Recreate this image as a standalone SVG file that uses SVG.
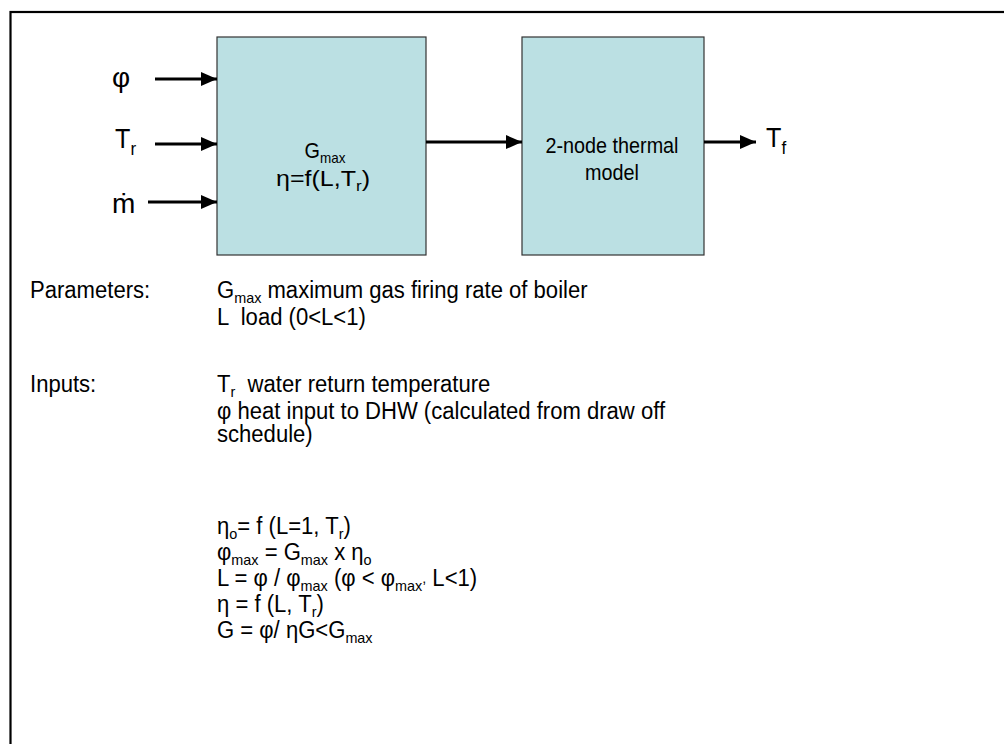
<svg xmlns="http://www.w3.org/2000/svg" width="1004" height="744" viewBox="0 0 1004 744">
<style>
text{font-family:"Liberation Sans",Arial,sans-serif;fill:#000}
.b{font-size:23px}
.lbl{font-size:28px}
.bx{font-size:22px}
.s{font-size:15px}
.box{fill:#BBE0E3;stroke:#333;stroke-width:1.2}
.c{stroke:#000;stroke-width:3;fill:none}
</style>
<defs>
<marker id="ah" markerUnits="userSpaceOnUse" markerWidth="16" markerHeight="14" refX="16" refY="7" orient="auto">
<path d="M0,0 L16,7 L0,14 Z" fill="#000"/>
</marker>
</defs>
<rect x="0" y="0" width="1004" height="744" fill="#fff"/>
<rect x="10.5" y="12" width="1010" height="760" fill="none" stroke="#000" stroke-width="2.2"/>
<g id="boiler">
<rect class="box" x="217" y="37" width="209" height="218"/>
<text class="bx" transform="translate(325,158) scale(0.9,1)" text-anchor="middle">G<tspan class="s" dy="5">max</tspan></text>
<text class="bx" x="276" y="186" textLength="94" lengthAdjust="spacingAndGlyphs">η=f(L,T<tspan class="s" dy="5">r</tspan><tspan dy="-5">)</tspan></text>
</g>
<g id="thermal">
<rect class="box" x="522" y="37" width="182" height="218"/>
<text class="bx" transform="translate(612,153) scale(0.9,1)" text-anchor="middle">2-node thermal</text>
<text class="bx" transform="translate(612,180) scale(0.9,1)" text-anchor="middle">model</text>
</g>
<g id="in-phi"><text class="lbl" x="112" y="87">φ</text></g>
<g id="in-tr"><text class="lbl" transform="translate(115,148) scale(0.9,1)">T<tspan font-size="19" dy="7">r</tspan></text></g>
<g id="in-m"><text class="lbl" x="112" y="213">ṁ</text></g>
<g id="out-tf"><text class="lbl" transform="translate(766,147) scale(0.9,1)">T<tspan font-size="19" dy="7">f</tspan></text></g>
<g id="connectors">
<line class="c" x1="155" y1="79" x2="217" y2="79" marker-end="url(#ah)"/>
<line class="c" x1="155" y1="144" x2="217" y2="144" marker-end="url(#ah)"/>
<line class="c" x1="148" y1="202" x2="217" y2="202" marker-end="url(#ah)"/>
<line class="c" x1="426" y1="142" x2="522" y2="142" marker-end="url(#ah)"/>
<line class="c" x1="704" y1="142" x2="756" y2="142" marker-end="url(#ah)"/>
</g>
<g id="text-body">
<text class="b" transform="translate(30,298) scale(0.96,1)">Parameters:</text>
<text class="b" transform="translate(217,298) scale(0.96,1)">G<tspan class="s" dy="5">max</tspan><tspan dy="-5"> maximum gas firing rate of boiler</tspan></text>
<text class="b" transform="translate(217,325) scale(0.96,1)" xml:space="preserve">L  load (0&lt;L&lt;1)</text>
<text class="b" transform="translate(30,392) scale(0.96,1)">Inputs:</text>
<text class="b" transform="translate(217,392) scale(0.96,1)" xml:space="preserve">T<tspan class="s" dy="5">r</tspan><tspan dy="-5">  water return temperature</tspan></text>
<text class="b" transform="translate(217,419) scale(0.96,1)">φ heat input to DHW (calculated from draw off</text>
<text class="b" transform="translate(217,442) scale(0.96,1)">schedule)</text>
<text class="b" transform="translate(217,534) scale(0.96,1)">η<tspan class="s" dy="5">o</tspan><tspan dy="-5">= f (L=1, T</tspan><tspan class="s" dy="5">r</tspan><tspan dy="-5">)</tspan></text>
<text class="b" transform="translate(217,560) scale(0.96,1)">φ<tspan class="s" dy="5">max</tspan><tspan dy="-5"> = G</tspan><tspan class="s" dy="5">max</tspan><tspan dy="-5"> x η</tspan><tspan class="s" dy="5">o</tspan></text>
<text class="b" transform="translate(217,586) scale(0.96,1)">L = φ / φ<tspan class="s" dy="5">max</tspan><tspan dy="-5"> (φ &lt; φ</tspan><tspan class="s" dy="5">max</tspan><tspan class="s" dy="-8">,</tspan><tspan dy="3"> L&lt;1)</tspan></text>
<text class="b" transform="translate(217,612) scale(0.96,1)">η = f (L, T<tspan class="s" dy="5">r</tspan><tspan dy="-5">)</tspan></text>
<text class="b" transform="translate(217,638) scale(0.96,1)">G = φ/ ηG&lt;G<tspan class="s" dy="5">max</tspan></text>
</g>
</svg>
